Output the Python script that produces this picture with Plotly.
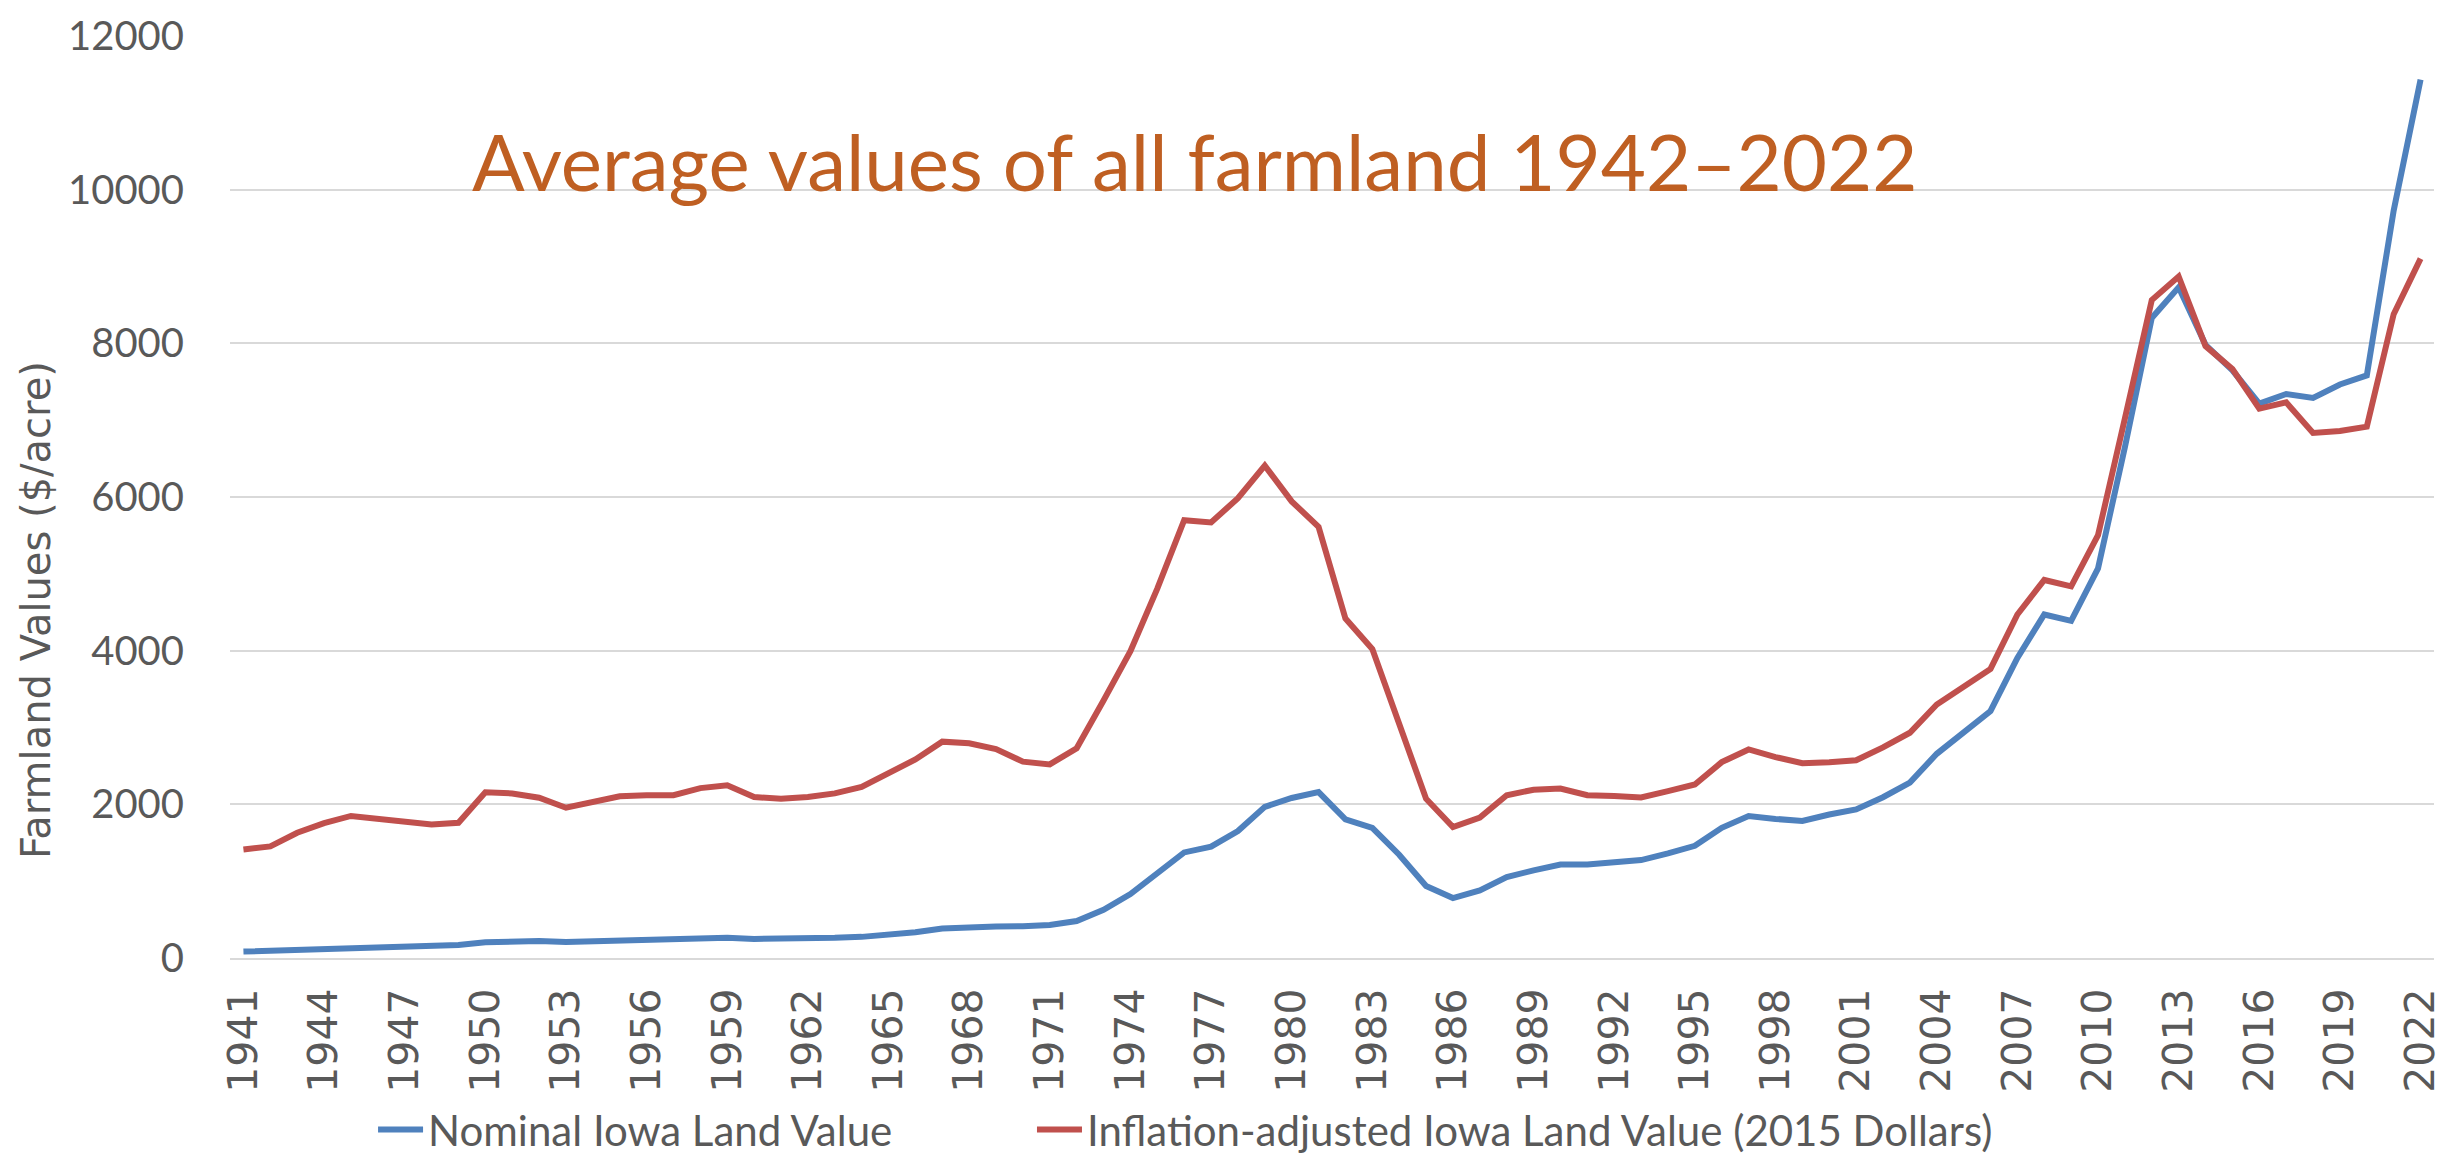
import plotly.graph_objects as go

years = list(range(1941, 2023))

nominal = [83, 95, 110, 122, 130, 140, 155, 168, 170, 205,
           222, 222, 208, 215, 222, 228, 235, 255, 265, 248,
           248, 252, 262, 275, 300, 335, 385, 402, 410, 413,
           430, 482, 628, 832, 1095, 1374, 1450, 1653, 1967, 2083,
           2159, 1804, 1695, 1344, 937, 780, 879, 1053, 1141, 1216,
           1216, 1245, 1275, 1362, 1460, 1695, 1847, 1810, 1783, 1867,
           1934, 2093, 2283, 2658, 2948, 3215, 3906, 4471, 4388, 5070,
           6650, 8330, 8729, 7980, 7648, 7215, 7340, 7290, 7464, 7582,
           9727, 11432]

adjusted = [1411, 1453, 1630, 1755, 1849, 1816, 1779, 1737, 1760, 2156,
            2142, 2086, 1956, 2026, 2104, 2119, 2119, 2211, 2249, 2095,
            2073, 2095, 2142, 2226, 2399, 2584, 2816, 2794, 2720, 2555,
            2520, 2730, 3352, 3993, 4808, 5698, 5669, 5984, 6408, 5943,
            5611, 4418, 4022, 3061, 2073, 1705, 1828, 2119, 2190, 2206,
            2119, 2110, 2090, 2171, 2258, 2549, 2714, 2615, 2535, 2549,
            2574, 2741, 2932, 3299, 3531, 3763, 4471, 4920, 4837, 5502,
            7024, 8563, 8870, 7964, 7665, 7149, 7232, 6833, 6858, 6916,
            8380, 9103]

x_ticks = list(range(1941, 2023, 3))
y_ticks = [0, 2000, 4000, 6000, 8000, 10000, 12000]

series_names = ["Nominal Iowa Land Value",
                "Inflation-adjusted Iowa Land Value (2015 Dollars)"]
title_text = "Average values of all farmland 1942\u20132022"
y_title = "Farmland Values ($/acre)"

BLUE = "#4F81BD"
RED = "#C0504D"
GRID = "#D9D9D9"
TXT = "#595959"

fig = go.Figure()
fig.add_trace(go.Scatter(x=years, y=nominal, mode="lines", name=series_names[0],
                         line=dict(color=BLUE, width=6), legend="legend"))
fig.add_trace(go.Scatter(x=years, y=adjusted, mode="lines", name=series_names[1],
                         line=dict(color=RED, width=6), legend="legend2"))

legend_common = dict(orientation="h", xref="container", yref="container",
                     y=0.028, yanchor="middle", xanchor="left",
                     font=dict(family="Lato", size=42, color=TXT),
                     itemwidth=45, bgcolor="rgba(0,0,0,0)")

fig.update_layout(
    width=2455, height=1154,
    margin=dict(l=222, r=29, t=28, b=204, autoexpand=False),
    plot_bgcolor="white", paper_bgcolor="white",
    showlegend=True,
    legend=dict(x=0.1487, **legend_common),
    legend2=dict(x=0.4171, **legend_common),
    annotations=[
        dict(text=title_text, x=0.4374, y=10000, xref="paper", yref="y",
             xanchor="center", yanchor="bottom", showarrow=False,
             font=dict(family="Lato", size=78, color="#BF5F22"),
             yshift=-20),
        dict(text=y_title, x=(28 - 222) / 2204, y=(950 - 602) / 922,
             xref="paper", yref="paper", showarrow=False, textangle=-90,
             xanchor="center", yanchor="middle",
             font=dict(family="DejaVu Sans", size=40, color=TXT)),
    ],
)

fig.update_xaxes(
    range=[1940.5, 2022.5], automargin=False,
    tickmode="array", tickvals=x_ticks, ticktext=[str(v) for v in x_ticks],
    tickangle=-90,
    tickfont=dict(family="DejaVu Sans", size=41, color=TXT),
    showgrid=False, zeroline=False,
    showline=True, linecolor=GRID, linewidth=2,
    ticks="", ticklabelstandoff=12,
)
fig.update_yaxes(
    range=[0, 12000], automargin=False,
    tickmode="array", tickvals=y_ticks, ticktext=[str(v) for v in y_ticks],
    tickfont=dict(family="Lato", size=40, color=TXT),
    showgrid=True, gridcolor=GRID, gridwidth=2,
    zeroline=False, showline=False, ticks="", ticklabelstandoff=45,
)

fig.write_html("out.html")
